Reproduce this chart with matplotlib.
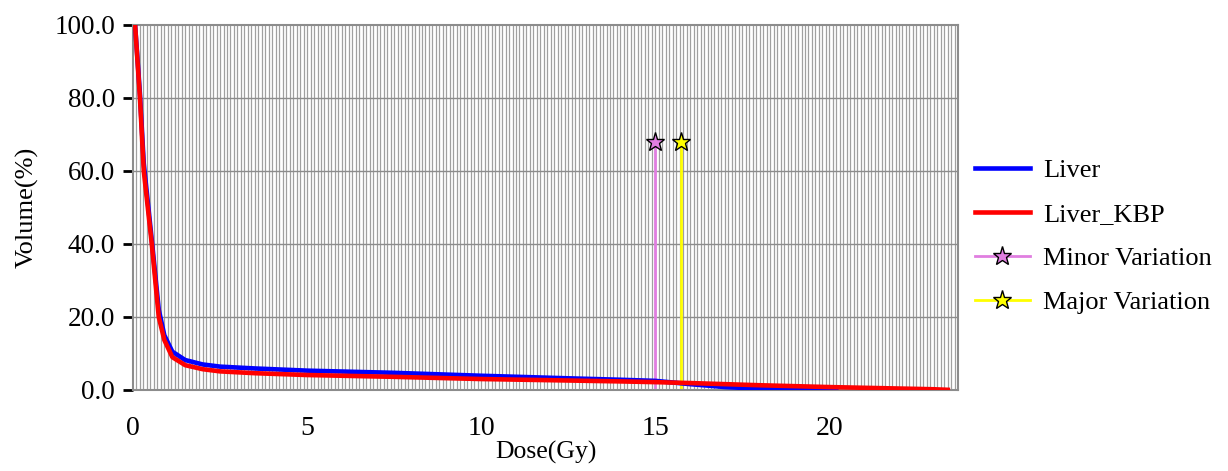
import matplotlib
matplotlib.use("Agg")
import matplotlib.pyplot as plt
import numpy as np

plt.rcParams['font.family'] = ['Liberation Serif', 'DejaVu Serif']

# DVH curves (dose in Gy, volume in %)
liver_dose = [0.0, 0.06, 0.2, 0.31, 0.54, 0.74, 0.9, 1.13, 1.5, 2.0, 2.5, 3.5, 5.0,
              7.5, 10.0, 12.5, 14.0, 15.0, 16.0, 17.0, 18.0, 19.0, 19.7, 20.2]
liver_vol = [100.0, 100.0, 81.0, 62.0, 41.0, 22.0, 15.0, 10.5, 8.2, 7.0, 6.4, 5.9, 5.3,
             4.7, 3.9, 3.2, 2.8, 2.5, 1.6, 0.8, 0.35, 0.12, 0.04, 0.0]

kbp_dose = [0.0, 0.06, 0.2, 0.31, 0.54, 0.74, 0.9, 1.13, 1.5, 2.0, 2.5, 3.5, 5.0,
            7.5, 10.0, 12.5, 14.0, 15.0, 16.0, 17.0, 18.0, 19.0, 20.0, 21.0, 22.0,
            23.0, 23.4]
kbp_vol = [100.0, 100.0, 80.0, 60.0, 40.0, 20.0, 13.7, 9.0, 6.8, 5.7, 5.1, 4.6, 4.1,
           3.6, 3.0, 2.6, 2.35, 2.15, 1.9, 1.6, 1.3, 1.05, 0.8, 0.6, 0.4, 0.2, 0.05]

variation_names = ['Minor Variation', 'Major Variation']
variation_dose = [14.98, 15.75]
variation_vol = [68.0, 68.0]
variation_colors = ['#e07ee0', '#ffff00']

fig = plt.figure(figsize=(12.28, 4.71), dpi=100)
ax = fig.add_axes([0.1083, 0.172, 0.672, 0.775])

# fine vertical grid every 0.1 Gy, horizontal every 20 %
for xv in np.arange(0.1, 23.7, 0.1):
    ax.axvline(xv, color='#a0a0a0', lw=0.9, zorder=0)
for yv in [20, 40, 60, 80]:
    ax.axhline(yv, color='#8c8c8c', lw=1.0, zorder=0)

ax.plot(liver_dose, liver_vol, color='#0000ff', lw=3.3, label='Liver', zorder=3)
ax.plot(kbp_dose, kbp_vol, color='#ff0000', lw=3.3, label='Liver_KBP', zorder=4)

for name, d, v, c in zip(variation_names, variation_dose, variation_vol, variation_colors):
    ax.plot([d, d], [0, v], color=c, lw=2, zorder=2)
    ax.plot([d], [v], color=c, lw=2, marker='*', markersize=14,
            markerfacecolor=c, markeredgecolor='black', markeredgewidth=1,
            zorder=5, label=name)

ax.set_xlim(0, 23.7)
ax.set_ylim(0, 100)
ax.set_xticks([0, 5, 10, 15, 20])
ax.set_yticks([0, 20, 40, 60, 80, 100])
ax.set_yticklabels(['%.1f' % t for t in [0, 20, 40, 60, 80, 100]])
ax.tick_params(axis='x', length=0, labelsize=20, pad=19)
ax.tick_params(axis='y', length=7, width=2, color='black', labelsize=19.5, pad=6)
for s in ax.spines.values():
    s.set_color('#8c8c8c')
    s.set_linewidth(1.5)

ax.set_xlabel('Dose(Gy)', fontsize=18.5, labelpad=0)
ax.set_ylabel('Volume(%)', fontsize=19, labelpad=11)

ax.legend(loc='center left', bbox_to_anchor=(1.007, 0.42), borderaxespad=0,
          frameon=False, fontsize=19, labelspacing=0.78, handlelength=2.1,
          handletextpad=0.5)

fig.savefig('out.png', dpi=100)
